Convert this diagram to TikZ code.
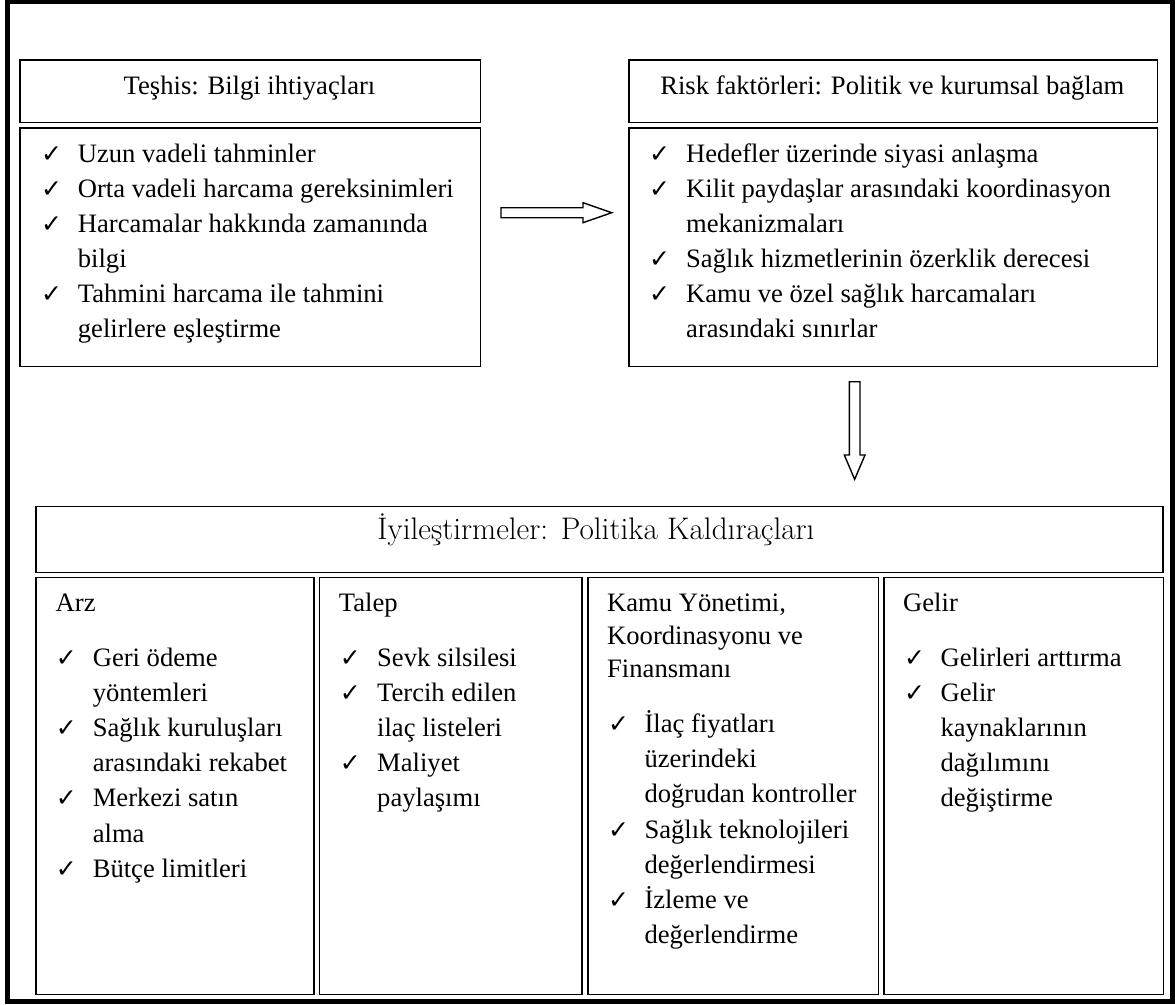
\documentclass[tikz,border=0pt]{standalone}
\usepackage{fontspec}
\newfontfamily\tnr{Liberation Serif}
\newfontfamily\chkf{DejaVu Sans}
\begin{document}
\begin{tikzpicture}[x=1pt,y=-1pt,
  box/.style={draw=black,line width=1.8pt,inner sep=0pt,anchor=north west},
  body/.style={font=\tnr\fontsize{26.6}{30}\selectfont, inner sep=0pt, anchor=base west},
  hdr/.style={font=\tnr\fontsize{26.6}{30}\selectfont, inner sep=0pt, anchor=base},
  ck/.style={font=\chkf\fontsize{25}{28}\selectfont, inner sep=0pt, anchor=base west},
  ttl/.style={font=\fontsize{31.2}{34}\selectfont, inner sep=0pt, anchor=base},
  blockarrow/.style={draw=black, line width=1.4pt, fill=white, line join=miter}
]
\useasboundingbox (0,0) rectangle (1175,1004);
\draw[line width=4.5pt] (7.5,1.5) rectangle (1172.5,1001.5);

% top-left
\node[box, minimum width=460.5pt, minimum height=62.5pt] (h1) at (19,59) {};
\node[box, minimum width=460.5pt, minimum height=238.5pt] (l1) at (19,127) {};
\node[hdr] (h1t) at (249.5,94.3) {Teşhis: Bilgi ihtiyaçları};
\node[ck] (c11) at (41,162) {✓};
\node[body] (t11) at (77.7,162) {Uzun vadeli tahminler};
\node[ck] (c12) at (41,197) {✓};
\node[body] (t12) at (77.7,197) {Orta vadeli harcama gereksinimleri};
\node[ck] (c13) at (41,232) {✓};
\node[body] (t13) at (77.7,232) {Harcamalar hakkında zamanında};
\node[body] (t13b) at (77.7,267) {bilgi};
\node[ck] (c14) at (41,302) {✓};
\node[body] (t14) at (77.7,302) {Tahmini harcama ile tahmini};
\node[body] (t14b) at (77.7,337) {gelirlere eşleştirme};

% top-right
\node[box, minimum width=528.5pt, minimum height=62.5pt] (h2) at (628,59) {};
\node[box, minimum width=528.5pt, minimum height=238.5pt] (l2) at (628,127) {};
\node[hdr] (h2t) at (892.3,94.3) {Risk faktörleri: Politik ve kurumsal bağlam};
\node[ck] (c21) at (649,162) {✓};
\node[body] (t21) at (686,162) {Hedefler üzerinde siyasi anlaşma};
\node[ck] (c22) at (649,197) {✓};
\node[body] (t22) at (686,197) {Kilit paydaşlar arasındaki koordinasyon};
\node[body] (t22b) at (686,232) {mekanizmaları};
\node[ck] (c23) at (649,267.5) {✓};
\node[body] (t23) at (686,267.5) {Sağlık hizmetlerinin özerklik derecesi};
\node[ck] (c24) at (649,302.5) {✓};
\node[body] (t24) at (686,302.5) {Kamu ve özel sağlık harcamaları};
\node[body] (t24b) at (686,337.5) {arasındaki sınırlar};

% arrows
\coordinate (ra) at (501,212.7);
\draw[blockarrow] (ra) ++(0,-5) -- ++(82,0) -- ++(0,-5) -- ++(28.7,10) -- ++(-28.7,10) -- ++(0,-5) -- ++(-82,0) -- cycle;
\coordinate (da) at (854.65,381.7);
\draw[blockarrow] (da) ++(-5.35,0) -- ++(10.7,0) -- ++(0,73.3) -- ++(5,0) -- ++(-10.35,24.3) -- ++(-10.35,-24.3) -- ++(5,0) -- cycle;

% bottom title
\node[box, minimum width=1127pt, minimum height=66pt] (tb) at (35,505.5) {};
\node[ttl] (tbt) at (596,539.3) {İyileştirmeler: Politika Kaldıraçları};

% columns
\node[box, minimum width=278pt, minimum height=417pt] (k1) at (35,576.5) {};
\node[box, minimum width=262.5pt, minimum height=417pt] (k2) at (318.5,576.5) {};
\node[box, minimum width=290.5pt, minimum height=417pt] (k3) at (587,576.5) {};
\node[box, minimum width=279.5pt, minimum height=417pt] (k4) at (883,576.5) {};

% col 1
\node[body] (k1h) at (55.5,611.7) {Arz};
\node[ck] (c31) at (55.6,666) {✓};
\node[body] (t31) at (92.6,666) {Geri ödeme};
\node[body] (t31b) at (92.6,701.2) {yöntemleri};
\node[ck] (c32) at (55.6,736.4) {✓};
\node[body] (t32) at (92.6,736.4) {Sağlık kuruluşları};
\node[body] (t32b) at (92.6,771.6) {arasındaki rekabet};
\node[ck] (c33) at (55.6,806.8) {✓};
\node[body] (t33) at (92.6,806.8) {Merkezi satın};
\node[body] (t33b) at (92.6,842) {alma};
\node[ck] (c34) at (55.6,877.2) {✓};
\node[body] (t34) at (92.6,877.2) {Bütçe limitleri};

% col 2
\node[body] (k2h) at (338.7,611.7) {Talep};
\node[ck] (c41) at (339.6,666) {✓};
\node[body] (t41) at (377,666) {Sevk silsilesi};
\node[ck] (c42) at (339.6,701.2) {✓};
\node[body] (t42) at (377,701.2) {Tercih edilen};
\node[body] (t42b) at (377,736.4) {ilaç listeleri};
\node[ck] (c43) at (339.6,771.6) {✓};
\node[body] (t43) at (377,771.6) {Maliyet};
\node[body] (t43b) at (377,806.8) {paylaşımı};

% col 3
\node[body] (k3h) at (607,611.7) {Kamu Yönetimi,};
\node[body] (k3h2) at (607,644.7) {Koordinasyonu ve};
\node[body] (k3h3) at (607,677.7) {Finansmanı};
\node[ck] (c51) at (608,732.7) {✓};
\node[body] (t51) at (644.3,732.7) {İlaç fiyatları};
\node[body] (t51b) at (644.3,767.8) {üzerindeki};
\node[body] (t51c) at (644.3,802.9) {doğrudan kontroller};
\node[ck] (c52) at (608,838) {✓};
\node[body] (t52) at (644.3,838) {Sağlık teknolojileri};
\node[body] (t52b) at (644.3,873.1) {değerlendirmesi};
\node[ck] (c53) at (608,908.2) {✓};
\node[body] (t53) at (644.3,908.2) {İzleme ve};
\node[body] (t53b) at (644.3,943.3) {değerlendirme};

% col 4
\node[body] (k4h) at (903,611.7) {Gelir};
\node[ck] (c61) at (904,666) {✓};
\node[body] (t61) at (940.4,666) {Gelirleri arttırma};
\node[ck] (c62) at (904,701.2) {✓};
\node[body] (t62) at (940.4,701.2) {Gelir};
\node[body] (t62b) at (940.4,736.4) {kaynaklarının};
\node[body] (t62c) at (940.4,771.6) {dağılımını};
\node[body] (t62d) at (940.4,806.8) {değiştirme};
\end{tikzpicture}
\end{document}
